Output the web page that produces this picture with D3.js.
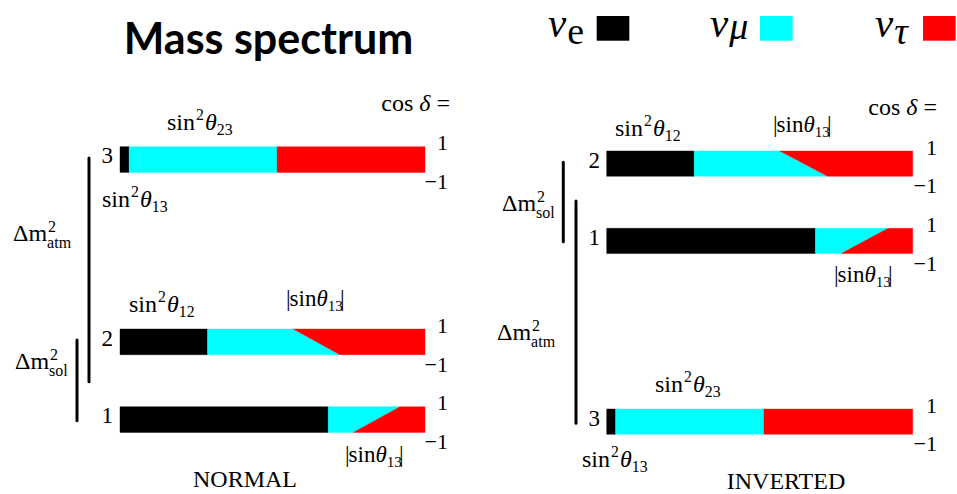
<!DOCTYPE html>
<html>
<head>
<meta charset="utf-8">
<script src="https://cdn.jsdelivr.net/npm/d3@7"></script>
<style>
  html, body { margin: 0; padding: 0; background: #fff; }
  svg { display: block; }
  svg text { font-family: "Liberation Serif"; fill: #000; }
  svg text.title { font-family: "Lato"; font-weight: bold; }
</style>
</head>
<body>
<svg id="chart" width="957" height="494"></svg>
<script>
// Flavour content of each mass eigenstate, as fractions of the bar length.
// "MuAtCos1" / "MuAtCosM1": where the νμ share ends for cos δ = +1 (bar top) and cos δ = −1 (bar bottom).
const normalLevels = ["3", "2", "1"];
const normalE = [0.030, 0.287, 0.683];
const normalMuAtCos1 = [0.515, 0.568, 0.918];
const normalMuAtCosM1 = [0.515, 0.721, 0.765];

const invertedLevels = ["2", "1", "3"];
const invertedE = [0.286, 0.682, 0.029];
const invertedMuAtCos1 = [0.566, 0.920, 0.514];
const invertedMuAtCosM1 = [0.722, 0.766, 0.514];

const cosDeltaTicks = [1, -1];
const flavourNames = ["e", "μ", "τ"];
const flavourColors = ["#000000", "#00ffff", "#ff0000"];

const SERIF = "Liberation Serif";
const svg = d3.select("#chart");

// Panel geometry
const panels = [
  {
    title: "NORMAL", titleX: 245, titleY: 487,
    x0: 120, x1: 425, barH: 25.7, tops: [146.7, 329, 406.7],
    levels: normalLevels, e: normalE, muTop: normalMuAtCos1, muBot: normalMuAtCosM1,
    tickX: 448, idxX: 113, cosX: 450, cosY: 111
  },
  {
    title: "INVERTED", titleX: 786, titleY: 489,
    x0: 606.7, x1: 912.7, barH: 25.3, tops: [151, 228.3, 409],
    levels: invertedLevels, e: invertedE, muTop: invertedMuAtCos1, muBot: invertedMuAtCosM1,
    tickX: 937, idxX: 600, cosX: 937, cosY: 115
  }
];

function serifText(parent) {
  return parent.append("text").attr("font-family", SERIF);
}

// Writes a label made of pieces: plain, italic, superscript or subscript.
function mathLabel(parent, x, y, parts, size, anchor) {
  const t = serifText(parent)
    .attr("x", x).attr("y", y)
    .style("font-size", size + "px")
    .attr("text-anchor", anchor || "start");
  let cur = 0;
  parts.forEach(p => {
    const shift = p.sup ? -size * 0.42 : p.sub ? size * 0.22 : 0;
    const ts = t.append("tspan").text(p.t).attr("dy", shift - cur);
    if (p.sup || p.sub) ts.style("font-size", (size * 0.66) + "px");
    if (p.it) ts.style("font-style", "italic");
    if (p.dx != null) ts.attr("dx", p.dx);
    cur = shift;
  });
  return t;
}

const sin2 = (idx) => [{ t: "sin" }, { t: "2", sup: true, dx: 1 }, { t: "θ", it: true, dx: 1 }, { t: idx, sub: true }];
const absSin13 = [{ t: "|" }, { t: "sin", dx: -1 }, { t: "θ", it: true }, { t: "13", sub: true }, { t: "|", dx: -3 }];

// Δm² with stacked superscript and subscript
function deltaM(parent, x, y, sub) {
  const main = serifText(parent)
    .attr("x", x).attr("y", y)
    .style("font-size", "24px")
    .text("Δm");
  const w = main.node().getComputedTextLength();
  serifText(parent)
    .attr("x", x + w + 1).attr("y", y - 9)
    .style("font-size", "16px")
    .text("2");
  serifText(parent)
    .attr("x", x + w).attr("y", y + 7)
    .style("font-size", "16px")
    .text(sub);
}

panels.forEach(p => {
  const g = svg.append("g");
  const x = d3.scaleLinear().domain([0, 1]).range([p.x0, p.x1]);

  p.levels.forEach((lvl, i) => {
    const y = d3.scaleLinear().domain([1, -1]).range([p.tops[i], p.tops[i] + p.barH]);
    const e = p.e[i], mt = p.muTop[i], mb = p.muBot[i];
    const pieces = [
      [[0, 1], [e, 1], [e, -1], [0, -1]],
      [[e, 1], [mt, 1], [mb, -1], [e, -1]],
      [[mt, 1], [1, 1], [1, -1], [mb, -1]]
    ];
    pieces.forEach((pts, k) => {
      g.append("path")
        .attr("d", d3.line().x(d => x(d[0])).y(d => y(d[1]))(pts) + "Z")
        .attr("fill", flavourColors[k])
        .attr("stroke", flavourColors[k])
        .attr("stroke-width", 0.4);
    });

    // cos δ end labels
    cosDeltaTicks.forEach(c => {
      serifText(g)
        .attr("x", p.tickX)
        .attr("y", c > 0 ? y(c) + 3.5 : y(c) + 17)
        .attr("text-anchor", "end")
        .style("font-size", "22px")
        .text(c > 0 ? String(c) : "−" + Math.abs(c));
    });

    // eigenstate index
    serifText(g)
      .attr("x", p.idxX).attr("y", y(1) + 16.5)
      .attr("text-anchor", "end")
      .style("font-size", "23px")
      .text(lvl);
  });

  mathLabel(g, p.cosX, p.cosY, [{ t: "cos " }, { t: "δ", it: true }, { t: " =" }], 24, "end");

  serifText(g)
    .attr("x", p.titleX).attr("y", p.titleY)
    .attr("text-anchor", "middle")
    .style("font-size", "24px")
    .text(p.title);
});

// Mixing angle annotations
const ann = svg.append("g");
mathLabel(ann, 167, 130, sin2("23"), 24);
mathLabel(ann, 102, 207, sin2("13"), 24);
mathLabel(ann, 129, 312, sin2("12"), 24);
mathLabel(ann, 286, 306, absSin13, 23);
mathLabel(ann, 345, 462, absSin13, 23);

mathLabel(ann, 615, 136, sin2("12"), 24);
mathLabel(ann, 773, 132, absSin13, 23);
mathLabel(ann, 834, 282, absSin13, 23);
mathLabel(ann, 655, 392, sin2("23"), 24);
mathLabel(ann, 582, 467, sin2("13"), 24);

// Mass splitting brackets
const brackets = [
  [89, 158, 381.7], [77, 340, 420.7],
  [563.3, 162.3, 241.7], [576, 201, 423.3]
];
brackets.forEach(b => {
  ann.append("line")
    .attr("x1", b[0]).attr("x2", b[0]).attr("y1", b[1]).attr("y2", b[2])
    .attr("stroke", "#000").attr("stroke-width", 3).attr("stroke-linecap", "round");
});
deltaM(ann, 13, 241, "atm");
deltaM(ann, 15, 369, "sol");
deltaM(ann, 502, 211, "sol");
deltaM(ann, 497, 340, "atm");

// Title
svg.append("text")
  .attr("class", "title")
  .attr("x", 268.5).attr("y", 54)
  .attr("text-anchor", "middle")
  .style("font-size", "43px")
  .text("Mass spectrum");

// Flavour legend
const legendX = [548, 710, 875];
const swatchX = [596.7, 760, 923];
const subDy = [7, 2, 7];
flavourNames.forEach((f, i) => {
  const t = serifText(svg)
    .attr("x", legendX[i]).attr("y", 37);
  t.append("tspan").text("ν").style("font-style", "italic").style("font-size", "41px");
  t.append("tspan").text(f)
    .style("font-style", f === "e" ? "normal" : "italic")
    .style("font-size", "38px")
    .attr("dx", 1)
    .attr("dy", subDy[i]);
  svg.append("rect")
    .attr("x", swatchX[i]).attr("y", 16)
    .attr("width", 32.6).attr("height", 24.7)
    .attr("fill", flavourColors[i]);
});
</script>
</body>
</html>
